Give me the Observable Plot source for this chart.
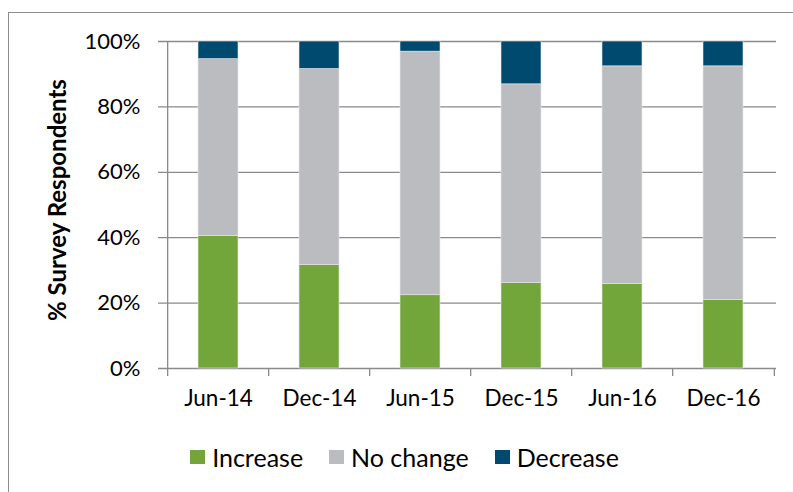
<!DOCTYPE html>
<html>
<head>
<meta charset="utf-8">
<script src="https://cdn.jsdelivr.net/npm/d3@7"></script>
<script src="https://cdn.jsdelivr.net/npm/@observablehq/plot@0.6"></script>
<style>
  html, body { margin: 0; padding: 0; background: #fff; }
  body { width: 793px; height: 492px; overflow: hidden; position: relative; font-family: Lato, "Open Sans", sans-serif; }
  #frame { position: absolute; left: 8px; top: 12px; width: 800px; height: 500px; border: 1px solid #8c8c8c; box-sizing: border-box; }
  #chart { position: absolute; left: 0; top: 0; }
  #chart svg { font-family: Lato, sans-serif; }
  #legend { position: absolute; top: 442px; left: 0; width: 793px; display: flex; justify-content: center; padding-left: 16px; box-sizing: border-box; }
  #legend .sw { display: flex; align-items: center; margin: 0 13px; font-size: 25px; color: #000; }
  #legend .sw span.box { width: 15px; height: 14px; display: inline-block; margin-right: 7px; }
</style>
</head>
<body>
<div id="frame"></div>
<div id="chart"></div>
<div id="legend"></div>
<script>
const periods = ["Jun-14", "Dec-14", "Jun-15", "Dec-15", "Jun-16", "Dec-16"];
const seriesNames = ["Increase", "No change", "Decrease"];
const increase = [40.5, 31.6, 22.4, 26.2, 25.9, 20.9];
const noChange = [54.1, 60.0, 74.5, 60.7, 66.5, 71.5];
const decrease = [5.4, 8.4, 3.1, 13.1, 7.6, 7.6];
const colors = ["#72a53a", "#bbbcc0", "#004a70"];
const yTicks = [0, 0.2, 0.4, 0.6, 0.8, 1.0];
const yTitle = "% Survey Respondents";

const rows = [];
periods.forEach((p, i) => {
  rows.push({period: p, series: "Increase", value: increase[i] / 100});
  rows.push({period: p, series: "No change", value: noChange[i] / 100});
  rows.push({period: p, series: "Decrease", value: decrease[i] / 100});
});

const W = 793, H = 430, mL = 166, mR = 17, mT = 41, mB = 62;
const step = (W - mL - mR) / periods.length;

const chart = Plot.plot({
  width: W,
  height: H,
  marginLeft: mL,
  marginRight: mR,
  marginTop: mT,
  marginBottom: mB,
  style: {fontSize: "22px", color: "#000", background: "transparent"},
  x: {domain: periods, paddingInner: 0.6, paddingOuter: 0.3, label: null},
  y: {domain: [0, 1], label: null},
  color: {domain: seriesNames, range: colors},
  marks: [
    Plot.ruleY(yTicks, {y: d => d, stroke: "#8a8a8a", strokeWidth: 1.3, insetLeft: -8}),
    Plot.barY(rows, Plot.stackY({x: "period", y: "value", fill: "series", order: seriesNames, stroke: "#e6e6e6", strokeWidth: 0.6})),
    Plot.ruleX(periods, {x: d => d, dx: -step / 2, y1: 0, y2: 0, insetBottom: -8, stroke: "#8a8a8a", strokeWidth: 1.3}),
    Plot.ruleX([periods[0]], {x: d => d, dx: -step / 2, y1: 0, y2: 1, stroke: "#8a8a8a", strokeWidth: 1.3}),
    Plot.ruleX([periods[periods.length - 1]], {x: d => d, dx: step / 2, y1: 0, y2: 0, insetBottom: -8, stroke: "#8a8a8a", strokeWidth: 1.3}),
    Plot.axisX({tickSize: 0, tickPadding: 22, fontSize: 22.5}),
    Plot.axisY({ticks: yTicks, tickSize: 0, tickPadding: 26, tickFormat: d3.format(".0%"), fontSize: 22, label: null}),
    Plot.text([yTitle], {text: d => d, frameAnchor: "left", rotate: -90, dx: -108, dy: -5, fontWeight: "bold", fontSize: 24, textAnchor: "middle", lineAnchor: "middle", fill: "#000"})
  ]
});
document.getElementById("chart").appendChild(chart);

const legend = document.getElementById("legend");
seriesNames.forEach((s, i) => {
  const d = document.createElement("div");
  d.className = "sw";
  d.innerHTML = `<span class="box" style="background:${colors[i]}"></span>${s}`;
  legend.appendChild(d);
});
</script>
</body>
</html>
